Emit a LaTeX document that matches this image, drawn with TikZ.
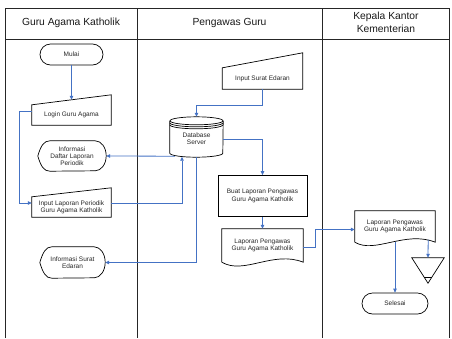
\documentclass[tikz,border=0pt]{standalone}
\usepackage{fontspec}
\setmainfont{Liberation Sans}
\usetikzlibrary{calc,arrows.meta,shapes.misc}
\definecolor{conn}{RGB}{68,114,196}
\begin{document}
\begin{tikzpicture}[x=1pt,y=-1pt,
  lane/.style={draw=black!85,line width=0.9pt},
  shp/.style={draw=black,line width=0.7pt},
  box/.style={inner sep=0pt,align=center,font=\fontsize{6.5}{7.3}\selectfont,text=black!85},
  hdr/.style={align=center,font=\fontsize{10.3}{13.2}\selectfont,text=black!90},
  arr/.style={draw=conn,line width=0.8pt,-{Triangle[length=4pt,width=3.5pt]}},
  term/.style={box,rounded rectangle,shp},
]
\useasboundingbox (0,0) rectangle (452,338);
% swimlanes
\draw[lane] (5,338) -- (5,8) -- (449,8) -- (449,338);
\draw[lane] (5,39) -- (449,39);
\draw[lane] (137,8) -- (137,338);
\draw[lane] (322,8) -- (322,338);
\node[hdr] (h1) at (71,23) {Guru Agama Katholik};
\node[hdr] (h2) at (229.5,23) {Pengawas Guru};
\node[hdr] (h3) at (386,22.5) {Kepala Kantor\\Kementerian};

% nodes
\node[term, minimum width=63pt, minimum height=21pt] (mulai) at (71.5,54.5) {Mulai};

\node[box, minimum width=79pt, minimum height=20pt] (login) at (71.5,115) {Login Guru Agama};
\draw[shp] (login.south west) -- (login.south east) -- ($(login.north east)+(0,-10)$) -- (login.north west) -- cycle;

\node[box, minimum width=68pt, minimum height=30pt] (info1) at (72,156) {Informasi\\Daftar Laporan\\Periodik};
\draw[shp] (info1.west) .. controls ($(info1.west)+(3,-10)$) and ($(info1.north west)+(6,0)$) .. ($(info1.north west)+(12,0)$)
  -- ($(info1.north east)+(-11,0)$) arc[start angle=90,end angle=-90,x radius=11pt,y radius=15pt]
  -- ($(info1.south west)+(12,0)$) .. controls ($(info1.south west)+(6,0)$) and ($(info1.west)+(3,10)$) .. (info1.west) -- cycle;

\node[box, minimum width=79pt, minimum height=20pt] (inlap) at (71.5,207) {Input Laporan Periodik\\Guru Agama Katholik};
\draw[shp] (inlap.south west) -- (inlap.south east) -- ($(inlap.north east)+(0,-9)$) -- (inlap.north west) -- cycle;

\node[box, minimum width=65pt, minimum height=31pt] (info2) at (72.5,262.5) {Informasi Surat\\Edaran};
\draw[shp] (info2.west) .. controls ($(info2.west)+(3,-10)$) and ($(info2.north west)+(6,0)$) .. ($(info2.north west)+(12,0)$)
  -- ($(info2.north east)+(-11,0)$) arc[start angle=90,end angle=-90,x radius=11pt,y radius=15.5pt]
  -- ($(info2.south west)+(12,0)$) .. controls ($(info2.south west)+(6,0)$) and ($(info2.west)+(3,10)$) .. (info2.west) -- cycle;

\node[box, minimum width=80pt, minimum height=21pt] (insur) at (262.5,78.5) {Input Surat Edaran};
\draw[shp] (insur.south west) -- (insur.south east) -- ($(insur.north east)+(0,-15)$) -- (insur.north west) -- cycle;

\node[box, minimum width=53pt, minimum height=36pt] (db) at (196.5,139) {Database\\Server};
\draw[shp] (db.north) ellipse [x radius=26.5pt, y radius=4pt];
\draw[shp] ($(db.north west)+(0,2)$) arc[start angle=180,end angle=360,x radius=26.5pt,y radius=4pt];
\draw[shp] ($(db.north west)+(0,4)$) arc[start angle=180,end angle=360,x radius=26.5pt,y radius=4pt];
\draw[shp] (db.north west) -- ($(db.south west)+(0,-4)$) arc[start angle=180,end angle=360,x radius=26.5pt,y radius=4pt] -- (db.north east);

\node[box, shp, minimum width=89pt, minimum height=41pt] (buat) at (262.5,196) {Buat Laporan Pengawas\\Guru Agama Katholik};

\node[box, minimum width=81pt, minimum height=33pt] (lap) at (262.5,245.5) {Laporan Pengawas\\Guru Agama Katholik};
\draw[shp] (lap.south west) -- (lap.north west) -- (lap.north east) -- (lap.south east)
  .. controls ($(lap.south east)+(-30,-12)$) and ($(lap.south west)+(22,13)$) .. (lap.south west);

\node[box, minimum width=80pt, minimum height=31pt] (kep) at (395,226.5) {Laporan Pengawas\\Guru Agama Katholik};
\draw[shp] (kep.south west) -- (kep.north west) -- (kep.north east) -- (kep.south east)
  .. controls ($(kep.south east)+(-30,-12)$) and ($(kep.south west)+(20,12)$) .. (kep.south west);

\node[inner sep=0pt, minimum width=32pt, minimum height=25pt] (tri) at (428,270.5) {};
\draw[shp] (tri.north west) -- (tri.north east) -- (tri.south) -- cycle;
\draw[shp] ($(tri.south)+(-4,-6)$) -- ($(tri.south)+(4,-6)$);

\node[term, minimum width=66pt, minimum height=21pt] (selesai) at (395,303.5) {Selesai};

% connectors
\draw[arr] (mulai.south) -- ($(login.north)+(0,-5)$);
\draw[arr] ($(login.west)+(0,-4)$) -- ++(-12,0) |- ($(inlap.west)+(0,-4)$);
\draw[arr] ($(db.south west)+(5,-1)$) -- (info1.east);
\draw[arr] ($(inlap.east)+(0,-4)$) -| ($(db.south)+(-14.5,-0.5)$);
\draw[arr] (db.south) |- (info2.east);
\draw[arr] (insur.south) -- ++(0,16) -| ($(db.north)+(0,-4)$);
\draw[arr] (db.east) -| (buat.north);
\draw[arr] (buat.south) -- (lap.north);
\draw[arr] ($(lap.east)+(0,2)$) -- ++(12,0) |- ($(kep.west)+(0,3)$);
\draw[arr] (kep.south) -- (selesai.north);
\draw[arr] ($(kep.south east)+(-7,-2.6)$) -- (tri.north);
\end{tikzpicture}
\end{document}
